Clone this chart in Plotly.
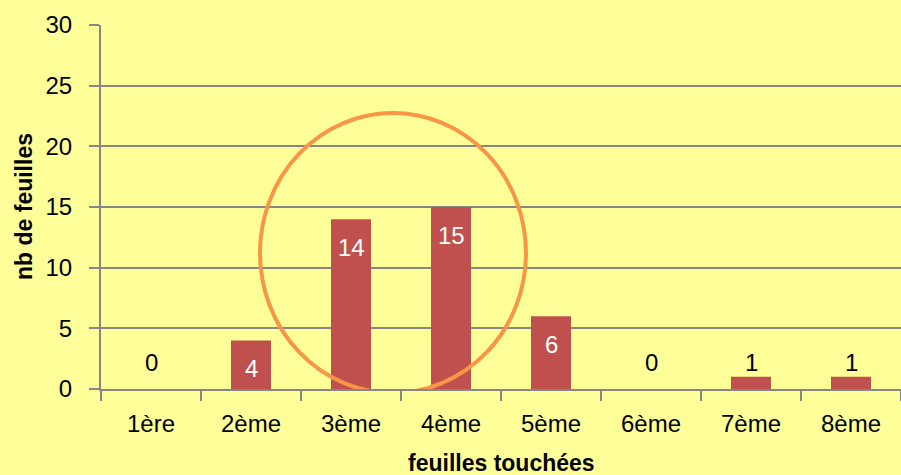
import plotly.graph_objects as go

categories = ["1ère", "2ème", "3ème", "4ème", "5ème", "6ème", "7ème", "8ème"]
values = [0, 4, 14, 15, 6, 0, 1, 1]
y_ticks = [0, 5, 10, 15, 20, 25, 30]

x_title = "feuilles touchées"
y_title = "nb de feuilles"

# highlight ellipse bounds (category index / value units)
circle_x = [1.09, 3.75]
circle_y = [-0.33, 22.75]

BG = "#FFFF99"
BAR = "#C0504D"
GRID = "#868686"
FONT = "Liberation Sans"
FS = 24

PL, PT, PW, PH = 101, 25, 800, 364

fig = go.Figure()
fig.add_trace(go.Bar(x=categories, y=values, marker_color=BAR,
                     marker_line_width=0, hoverinfo="skip"))

annotations = []
for c, v in zip(categories, values):
    if v >= 3:
        annotations.append(dict(x=c, y=v, text=str(v), showarrow=False,
                                yanchor="middle", yshift=-28,
                                font=dict(color="white", size=FS, family=FONT)))
    else:
        annotations.append(dict(x=c, y=v, text=str(v), showarrow=False,
                                yanchor="middle", yshift=27 if v == 0 else 14,
                                font=dict(color="black", size=FS, family=FONT)))

annotations.append(dict(xref="paper", yref="paper", x=(501 - PL) / PW, y=-(475 - 389) / PH,
                        text="<b>" + x_title + "</b>", showarrow=False,
                        xanchor="center", yanchor="bottom", yshift=-3,
                        font=dict(size=23, family=FONT, color="black")))
annotations.append(dict(xref="paper", yref="paper", x=-(PL - 24) / PW, y=(389 - 207) / PH,
                        text="<b>" + y_title + "</b>", showarrow=False, textangle=-90,
                        xanchor="center", yanchor="middle",
                        font=dict(size=23, family=FONT, color="black")))

fig.update_layout(
    width=901, height=475,
    margin=dict(l=PL, r=901 - PL - PW, t=PT, b=475 - PT - PH, autoexpand=False),
    paper_bgcolor=BG, plot_bgcolor=BG,
    bargap=0.6,
    showlegend=False,
    font=dict(family=FONT, size=FS, color="black"),
    annotations=annotations,
    shapes=[dict(type="circle", xref="x", yref="y",
                 x0=circle_x[0], x1=circle_x[1], y0=circle_y[0], y1=circle_y[1],
                 line=dict(color="#F79646", width=4), layer="above")],
)
fig.update_xaxes(
    automargin=False,
    showline=True, linecolor=GRID, linewidth=2,
    ticks="outside", ticklen=10, tickwidth=2, tickcolor=GRID,
    tickson="boundaries", showgrid=False,
    tickfont=dict(size=FS, family=FONT, color="black"),
    ticklabelstandoff=12,
)
fig.update_yaxes(
    automargin=False,
    range=[0, 30], tickvals=y_ticks,
    showline=True, linecolor=GRID, linewidth=2,
    showgrid=True, gridcolor=GRID, gridwidth=2,
    zeroline=False,
    ticks="outside", ticklen=10, tickwidth=2, tickcolor=GRID,
    tickfont=dict(size=FS, family=FONT, color="black"),
    ticklabelstandoff=12,
)

fig.write_html(
    "out.html",
    config={"displayModeBar": False},
    post_script="document.body.style.margin='0';document.body.style.background='%s';"
                "document.body.style.overflow='hidden';" % BG,
)
